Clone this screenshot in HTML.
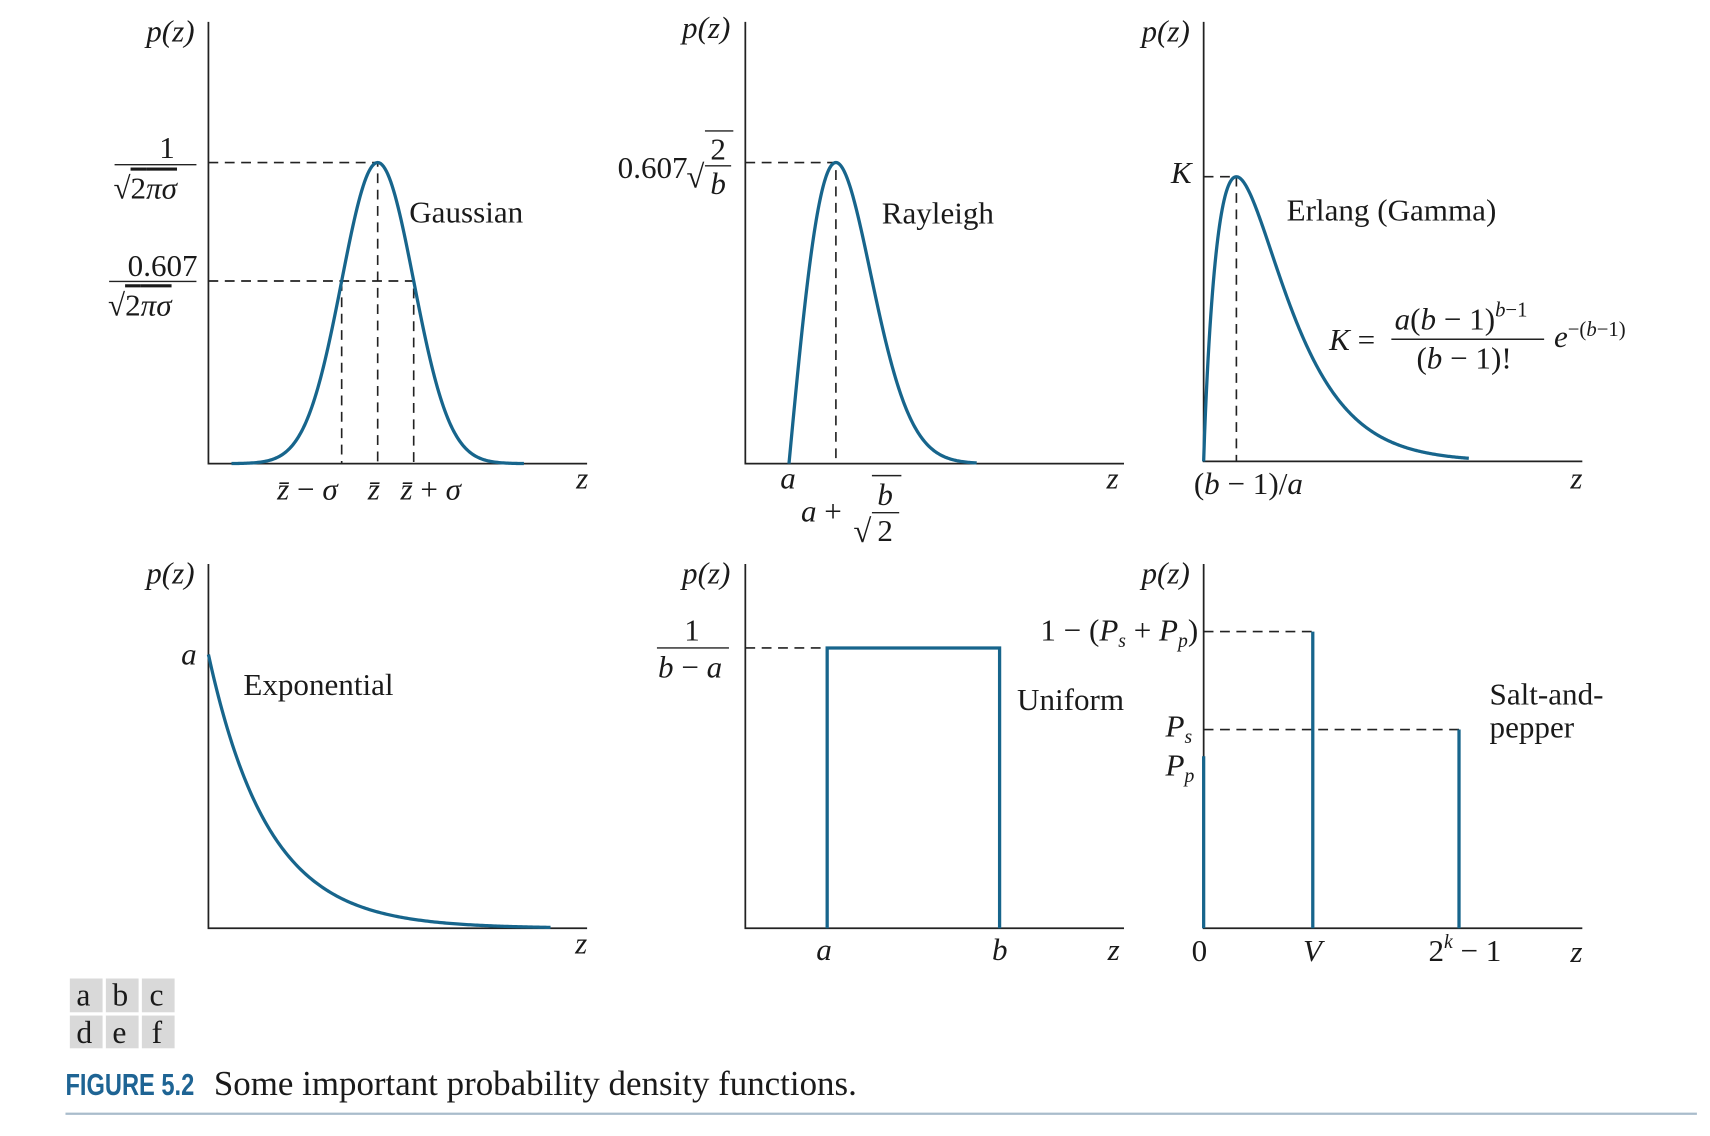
<!DOCTYPE html>
<html><head><meta charset="utf-8"><title>Figure 5.2</title>
<style>
html,body{margin:0;padding:0;background:#fff;}
svg{display:block;}
text{font-family:"Liberation Serif",serif;fill:#1a1a1a;}
.it{font-style:italic;}
</style></head>
<body>
<svg id="fig" width="1710" height="1136" viewBox="0 0 1567 1041.4" preserveAspectRatio="none" xmlns="http://www.w3.org/2000/svg">
<g id="axes" stroke="#222" stroke-width="1.6" fill="none">
  <path d="M191 20V425H538"/>
  <path d="M683 20V425H1030"/>
  <path d="M1103 20V423H1450"/>
  <path d="M191 517V851H538"/>
  <path d="M683 517V851H1030"/>
  <path d="M1103 517V851H1450"/>
</g>
<g id="dashes" stroke="#222" stroke-width="1.5" stroke-dasharray="9,6" fill="none"></g>
<g id="curves" stroke="#17658c" stroke-width="3" fill="none"></g>

<g font-size="28.5">
  <!-- a -->
  <text x="134" y="38" class="it">p(z)</text>
  <text x="146" y="145">1</text>
  <line x1="105" y1="151" x2="180" y2="151" stroke="#222" stroke-width="1.3"/>
  <text x="104" y="182">√<tspan text-decoration="overline">2<tspan class="it">πσ</tspan></tspan></text>
  <text x="117" y="253">0.607</text>
  <line x1="100" y1="258" x2="180" y2="258" stroke="#222" stroke-width="1.3"/>
  <text x="99" y="289">√<tspan text-decoration="overline">2<tspan class="it">πσ</tspan></tspan></text>
  <text x="375" y="204">Gaussian</text>
  <text x="254" y="458" class="it">z̄ <tspan font-style="normal">−</tspan> σ</text>
  <text x="337" y="458" class="it">z̄</text>
  <text x="367" y="458" class="it">z̄ <tspan font-style="normal">+</tspan> σ</text>
  <text x="528" y="448" class="it">z</text>
  <!-- b -->
  <text x="625" y="35" class="it">p(z)</text>
  <text x="566" y="163">0.607</text>
  <text x="629" y="172" font-size="30">√</text>
  <line x1="646" y1="120" x2="672" y2="120" stroke="#222" stroke-width="1.3"/>
  <text x="651" y="146">2</text>
  <line x1="646" y1="152" x2="670" y2="152" stroke="#222" stroke-width="1.3"/>
  <text x="651" y="178" class="it">b</text>
  <text x="808" y="205">Rayleigh</text>
  <text x="715" y="448" class="it">a</text>
  <text x="734" y="478" class="it">a <tspan font-style="normal">+</tspan></text>
  <text x="782" y="497" font-size="30">√</text>
  <line x1="799" y1="436" x2="826" y2="436" stroke="#222" stroke-width="1.3"/>
  <text x="804" y="463" class="it">b</text>
  <line x1="799" y1="470" x2="824" y2="470" stroke="#222" stroke-width="1.3"/>
  <text x="804" y="496">2</text>
  <text x="1014" y="448" class="it">z</text>
  <!-- c -->
  <text x="1046" y="38" class="it">p(z)</text>
  <text x="1073" y="168" class="it">K</text>
  <text x="1179" y="202">Erlang (Gamma)</text>
  <text x="1218" y="321"><tspan class="it">K</tspan> =</text>
  <text x="1278" y="302"><tspan class="it">a</tspan>(<tspan class="it">b</tspan> − 1)<tspan dy="-12" font-size="19"><tspan class="it">b</tspan>−1</tspan></text>
  <line x1="1275" y1="311" x2="1415" y2="311" stroke="#222" stroke-width="1.3"/>
  <text x="1298" y="338">(<tspan class="it">b</tspan> − 1)!</text>
  <text x="1424" y="318"><tspan class="it">e</tspan><tspan dy="-10" font-size="19">−(<tspan class="it">b</tspan>−1)</tspan></text>
  <text x="1094" y="453">(<tspan class="it">b</tspan> − 1)/<tspan class="it">a</tspan></text>
  <text x="1439" y="448" class="it">z</text>
  <!-- d -->
  <text x="134" y="535" class="it">p(z)</text>
  <text x="166" y="609" class="it">a</text>
  <text x="223" y="637">Exponential</text>
  <text x="527" y="874" class="it">z</text>
  <!-- e -->
  <text x="625" y="535" class="it">p(z)</text>
  <text x="627" y="587">1</text>
  <line x1="602" y1="594" x2="668" y2="594" stroke="#222" stroke-width="1.3"/>
  <text x="603" y="621"><tspan class="it">b</tspan> − <tspan class="it">a</tspan></text>
  <text x="932" y="651">Uniform</text>
  <text x="748" y="880" class="it">a</text>
  <text x="909" y="880" class="it">b</text>
  <text x="1015" y="880" class="it">z</text>
  <!-- f -->
  <text x="1046" y="535" class="it">p(z)</text>
  <text x="1098" y="587" text-anchor="end">1 − (<tspan class="it">P</tspan><tspan dy="6" font-size="18" class="it">s</tspan><tspan dy="-6"> + </tspan><tspan class="it">P</tspan><tspan dy="6" font-size="18" class="it">p</tspan><tspan dy="-6">)</tspan></text>
  <text x="1068" y="675"><tspan class="it">P</tspan><tspan dy="6" font-size="18" class="it">s</tspan></text>
  <text x="1068" y="711"><tspan class="it">P</tspan><tspan dy="6" font-size="18" class="it">p</tspan></text>
  <text x="1365" y="646">Salt-and-</text>
  <text x="1365" y="676">pepper</text>
  <text x="1092" y="881">0</text>
  <text x="1194" y="881" class="it">V</text>
  <text x="1309" y="881">2<tspan dy="-12" font-size="18" class="it">k</tspan><tspan dy="12"> − 1</tspan></text>
  <text x="1439" y="882" class="it">z</text>
</g>

<g font-size="29">
  <rect x="64" y="897" width="30" height="31" fill="#d9d9d9"/><rect x="97" y="897" width="30" height="31" fill="#d9d9d9"/><rect x="130" y="897" width="30" height="31" fill="#d9d9d9"/>
  <rect x="64" y="931" width="30" height="30" fill="#d9d9d9"/><rect x="97" y="931" width="30" height="30" fill="#d9d9d9"/><rect x="130" y="931" width="30" height="30" fill="#d9d9d9"/>
  <text x="70" y="922">a</text><text x="103" y="922">b</text><text x="137" y="922">c</text>
  <text x="70" y="956">d</text><text x="103" y="956">e</text><text x="139" y="956">f</text>
</g>
<text x="60" y="1004" font-size="28" font-weight="bold" textLength="118" lengthAdjust="spacingAndGlyphs" style="font-family:'Liberation Sans',sans-serif;fill:#1e6494">FIGURE 5.2</text>
<text x="196" y="1004" font-size="32">Some important probability density functions.</text>
<line x1="60" y1="1021" x2="1555" y2="1021" stroke="#a9bccb" stroke-width="2"/>
</svg>
<script>
// distribution parameters (in axis units)
const gaussParams = [4.7, 1];          // mean, sigma
const rayleighParams = [1, 2];          // a, b
const erlangParams = [1.9, 1];          // b, a
const expParams = [1];                  // a
const uniformParams = [1, 3];           // a, b
const saltPepperX = [0, 1, 2.34];       // 0, V, 2^k-1
const saltPepperY = [0.58, 1, 0.67];    // Pp, 1-(Ps+Pp), Ps

const NS = 'http://www.w3.org/2000/svg';
const curves = document.getElementById('curves');
const dashes = document.getElementById('dashes');
function path(g, d, name) {
  const p = document.createElementNS(NS, 'path');
  p.setAttribute('d', d);
  
  
  g.appendChild(p);
}
function axis(x0, y0, sx, sy) { return { x: v => x0 + v * sx, y: v => y0 - v * sy }; }
function sample(f, a, b, ax, n) {
  let d = '';
  for (let i = 0; i <= n; i++) { const z = a + (b - a) * i / n; d += (i ? 'L' : 'M') + ax.x(z).toFixed(2) + ' ' + ax.y(f(z)).toFixed(2); }
  return d;
}
// Gaussian
(function () {
  const [m, s] = gaussParams;
  const ax = axis(191, 425, 33, 276);
  const f = z => Math.exp(-(z - m) * (z - m) / (2 * s * s));
  path(curves, sample(f, m - 4.06, m + 4.06, ax, 200), 'gaussian-curve');
  const h = f(m - s);
  path(dashes, `M${ax.x(0)} ${ax.y(1)}H${ax.x(m)}V${ax.y(0)}`, 'gaussian-peak-guide');
  path(dashes, `M${ax.x(0)} ${ax.y(h)}H${ax.x(m + s)}V${ax.y(0)}M${ax.x(m - s)} ${ax.y(h)}V${ax.y(0)}`, 'gaussian-sigma-guide');
})();
// Rayleigh
(function () {
  const [a, b] = rayleighParams;
  const ax = axis(680, 425, 43, 276);
  const mode = a + Math.sqrt(b / 2);
  const raw = z => z < a ? 0 : (2 / b) * (z - a) * Math.exp(-(z - a) * (z - a) / b);
  const pk = raw(mode);
  const f = z => raw(z) / pk;
  path(curves, sample(f, a, a + 4.0, ax, 200), 'rayleigh-curve');
  path(dashes, `M${ax.x(0) + 3} ${ax.y(1)}H${ax.x(mode)}V${ax.y(0)}`, 'rayleigh-peak-guide');
})();
// Erlang
(function () {
  const [b, a] = erlangParams;
  const ax = axis(1103, 423, 30 * a / (b - 1), 261);
  const mode = (b - 1) / a;
  const f = z => Math.pow(z / mode, b - 1) * Math.exp(-(b - 1) * (z / mode - 1));
  path(curves, sample(f, 0, 8.1 * mode, ax, 300), 'erlang-curve');
  path(dashes, `M${ax.x(0)} ${ax.y(1)}H${ax.x(mode)}V${ax.y(0)}`, 'erlang-peak-guide');
})();
// Exponential
(function () {
  const [a] = expParams;
  const ax = axis(191, 851, 55 / a, 251);
  const f = z => Math.exp(-a * z);
  path(curves, sample(f, 0, 5.7, ax, 200), 'exponential-curve');
})();
// Uniform
(function () {
  const [a, b] = uniformParams;
  const ax = axis(679, 851, 79, 257);
  path(curves, `M${ax.x(a)} ${ax.y(0)}V${ax.y(1)}H${ax.x(b)}V${ax.y(0)}`, 'uniform-box');
  path(dashes, `M${683} ${ax.y(1)}H${ax.x(a)}`, 'uniform-guide');
})();
// Salt-and-pepper
(function () {
  const ax = axis(1103, 851, 100, 272);
  saltPepperX.forEach((x, i) => {
    path(curves, `M${ax.x(x)} ${ax.y(0)}V${ax.y(saltPepperY[i])}`, 'impulse-' + i);
    if (i > 0) path(dashes, `M${ax.x(0)} ${ax.y(saltPepperY[i])}H${ax.x(x)}`, 'impulse-guide-' + i);
  });
})();
</script>
</body></html>
